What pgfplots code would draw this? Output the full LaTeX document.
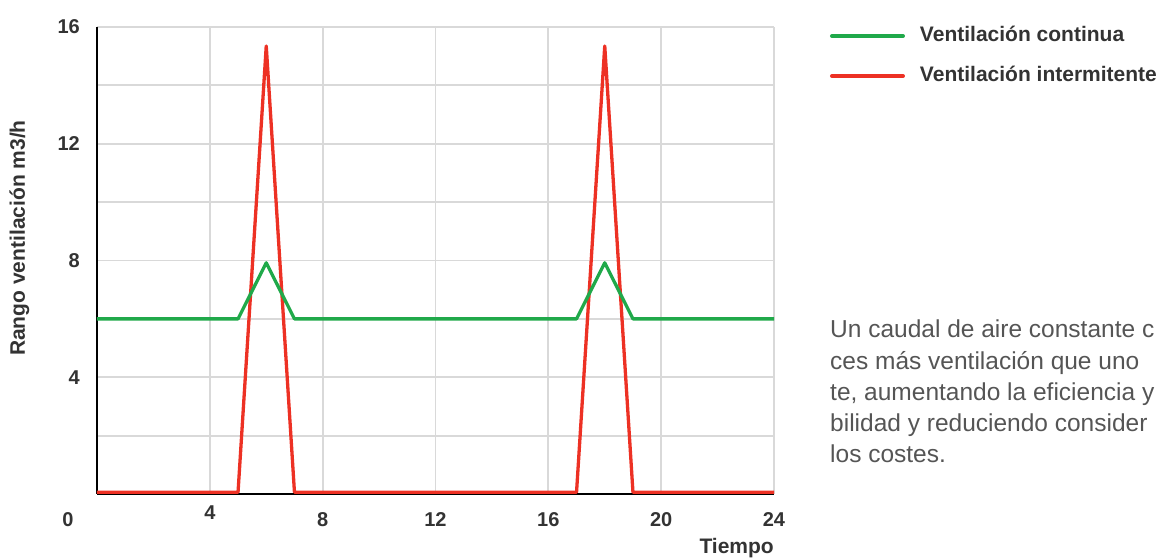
\documentclass[border=0pt]{standalone}
\usepackage{pgfplots}
\pgfplotsset{compat=1.18}
\usepackage{fontspec}
\setmainfont{Liberation Sans}
\definecolor{cgreen}{RGB}{32,169,74}
\definecolor{cred}{RGB}{237,49,36}
\definecolor{cgrid}{RGB}{217,217,217}
\definecolor{ctext}{RGB}{51,51,51}
\definecolor{cpara}{RGB}{85,85,85}
\begin{document}
\begin{tikzpicture}
\begin{axis}[
  at={(0pt,0pt)}, anchor=south west,
  scale only axis, width=677pt, height=467pt,
  xmin=0, xmax=24, ymin=0, ymax=16,
  clip=false,
  /pgf/number format/assume math mode=true,
  axis x line=bottom, axis y line=left,
  axis line style={-, black, line width=2pt},
  xtick={4,8,...,24}, xticklabels={,8,12,16,20,24},
  ytick={4,8,12,16}, yticklabels={4,8,12,16}, minor ytick={2,6,10,14},
  major tick length=0pt, minor tick length=0pt,
  xmajorgrids, ymajorgrids, yminorgrids,
  grid style={cgrid, line width=1.8pt},
  minor grid style={cgrid, line width=1.8pt},
  tick label style={font=\fontsize{20}{24}\selectfont\bfseries, text=ctext, inner sep=0pt},
  xticklabel style={anchor=center, yshift=-26pt},
  yticklabel style={anchor=east, xshift=-17pt},
  xlabel={Tiempo},
  xlabel style={at={(axis description cs:1,0)}, anchor=base east, yshift=-60pt, inner sep=0pt, font=\fontsize{21}{25}\selectfont\bfseries, text=ctext},
  ylabel={Rango ventilación m3/h},
  ylabel style={at={(axis description cs:-0.1145,0.548)}, anchor=center, inner sep=0pt, font=\fontsize{21}{25}\selectfont\bfseries, text=ctext},
  legend style={at={(axis description cs:1.0827,1.001)}, anchor=north west, draw=none, fill=none, inner sep=0pt, outer sep=0pt, row sep=21pt, column sep=15pt, font=\fontsize{21}{24}\selectfont\bfseries, text=ctext, nodes={inner sep=0pt, text height=15pt, text depth=4pt}},
  legend cell align=left,
  reverse legend,
  legend image code/.code={\draw[#1, line width=4pt, line cap=round] (2pt,0pt) -- (73pt,0pt);},
]
\addplot[cred, line width=3.3pt, line join=round] coordinates {
(0,0.06) (5,0.06) (6,15.35) (7,0.06) (17,0.06) (18,15.35) (19,0.06) (24,0.06)};
\addlegendentry{Ventilación intermitente}
\addplot[cgreen, line width=3.3pt, line join=round] coordinates {
(0,6) (5,6) (6,7.92) (7,6) (17,6) (18,7.92) (19,6) (24,6)};
\addlegendentry{Ventilación continua}
\node[font=\fontsize{20}{24}\selectfont\bfseries, text=ctext, inner sep=0pt, xshift=-29pt, yshift=-26pt] at (axis cs:0,0) {0};
\node[font=\fontsize{20}{24}\selectfont\bfseries, text=ctext, inner sep=0pt, yshift=-19pt] at (axis cs:4,0) {4};
\end{axis}
\node[anchor=base west, inner sep=0pt, align=left, font=\fontsize{24.5}{31.3}\selectfont, text=cpara] at (733pt,31pt) {Un caudal de aire constante c\\ces más ventilación que uno\\te, aumentando la eficiencia y\\bilidad y reduciendo consider\\los costes.};
\pgfresetboundingbox
\path (-97pt,-65pt) rectangle (1066pt,494pt);
\end{tikzpicture}
\end{document}
